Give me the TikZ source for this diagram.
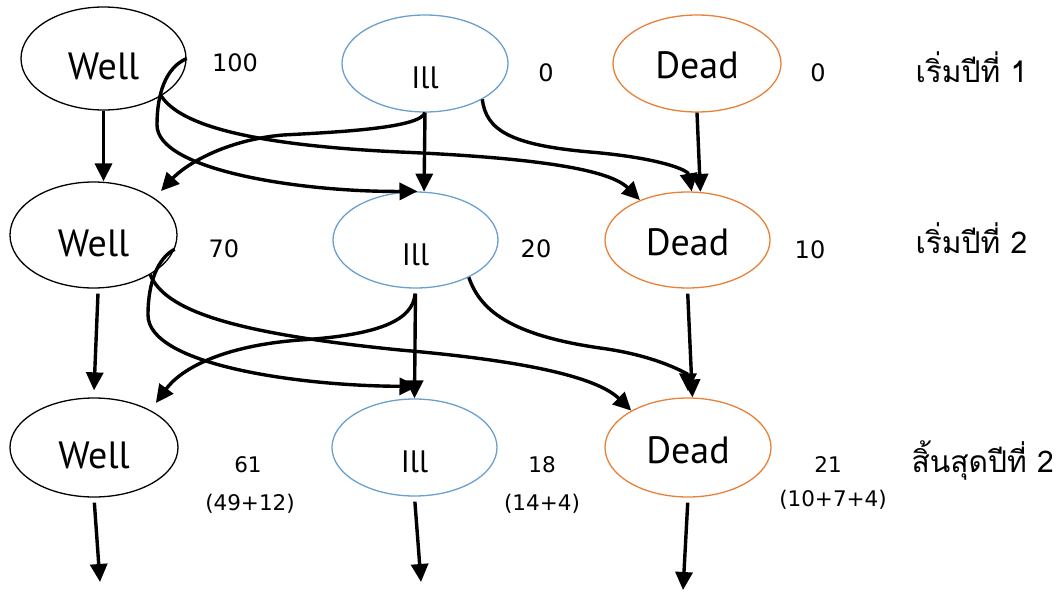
\documentclass[tikz,border=0pt]{standalone}
\usepackage{fontspec}
\setmainfont{PT Sans}
\newfontfamily\thai[Script=Thai]{Loma}
\newfontfamily\numfont{DejaVu Sans}
\usetikzlibrary{shapes.geometric,arrows.meta,calc}
\definecolor{illc}{RGB}{106,159,207}
\definecolor{deadc}{RGB}{232,128,56}
\begin{document}
\begin{tikzpicture}[x=1pt,y=-1pt,
  state/.style={ellipse,inner sep=0pt,line width=1.3pt,text depth=0pt},
  wellst/.style={state,draw=black,font=\fontsize{38}{42}\selectfont,text height=42pt},
  illst/.style={state,draw=illc,font=\fontsize{31}{34}\selectfont,text height=50pt},
  deadst/.style={state,draw=deadc,font=\fontsize{38}{42}\selectfont,text height=31pt},
  num/.style={anchor=base,font=\numfont\fontsize{24}{28}\selectfont},
  small/.style={anchor=base,font=\numfont\fontsize{21.5}{24}\selectfont},
  year/.style={anchor=base west,font=\thai\fontsize{30}{34}\selectfont},
  arr/.style={-{Triangle[length=18pt,width=17pt]},line width=3.4pt},
]
\useasboundingbox (0,0) rectangle (1056,591);
% states
\node[wellst,minimum width=165pt,minimum height=103pt] (W1) at (103.5,58.5) {Well};
\node[illst,minimum width=166pt,minimum height=97pt] (I1) at (425,63.5) {Ill};
\node[deadst,minimum width=168pt,minimum height=97pt] (D1) at (697,63.5) {Dead};
\node[wellst,minimum width=167pt,minimum height=106pt] (W2) at (93.5,235) {Well};
\node[illst,minimum width=165pt,minimum height=96pt] (I2) at (415.5,240) {Ill};
\node[deadst,minimum width=165pt,minimum height=96pt] (D2) at (687.5,240) {Dead};
\node[wellst,minimum width=168pt,minimum height=99pt] (W3) at (94,447.5) {Well};
\node[illst,minimum width=165pt,minimum height=97pt] (I3) at (414.5,447.5) {Ill};
\node[deadst,minimum width=166pt,minimum height=99pt] (D3) at (688,447.5) {Dead};
% labels
\node[num] (n1) at (235,72) {100};
\node[num] (n2) at (546,82) {0};
\node[num] (n3) at (818,82) {0};
\node[year] (y1) at (912,83) {เริ่มปีที่ 1};
\node[num] (n4) at (224,257) {70};
\node[num] (n5) at (536,257) {20};
\node[num] (n6) at (810,258) {10};
\node[year] (y2) at (912,253) {เริ่มปีที่ 2};
\node[small] (n7) at (248,472) {61};
\node[small] (n7b) at (250,510) {(49+12)};
\node[small] (n8) at (542,472) {18};
\node[small] (n8b) at (542,510) {(14+4)};
\node[small] (n9) at (828,472) {21};
\node[small] (n9b) at (833,506) {(10+7+4)};
\node[year] (y3) at (908,472) {สิ้นสุดปีที่ 2};
% free ends
\coordinate (w4) at (100,582);
\coordinate (i4) at (421,582);
\coordinate (d4) at (683,590);
% year 1 transitions
\draw[arr] (W1.south) -- (W1.south |- W2.north);
\draw[arr] (I1.south) -- (I2.80);
\draw[arr] (D1.south) -- (D2.75);
\draw[arr] (W1.east) .. controls (165,68) and (157,95) .. (157,125) .. controls (157,170) and (300,192) .. ($(I2.north)+(2,0)$);
\draw[arr] (W1.-33) .. controls (180,125) and (250,145) .. (400,152) .. controls (540,158) and (610,170) .. (D2.140);
\draw[arr] (I1.south) .. controls (420,128) and (340,132) .. (283,135) .. controls (225,140) and (185,165) .. ($(W2.north east)+(8,-6)$);
\draw[arr] (I1.-32) .. controls (486,130) and (510,145) .. (590,152) .. controls (660,158) and (688,170) .. (D2.85);
% year 2 transitions
\draw[arr,shorten <=5pt] (W2.-85) -- ($(W3.north)+(0,-7)$);
\draw[arr,shorten <=5pt] (I2.south) -- (I3.north);
\draw[arr,shorten <=5pt] (D2.south) -- (D3.85);
\draw[arr] (W2.-10) .. controls (158,258) and (148,282) .. (148,315) .. controls (148,365) and (300,386) .. ($(I3.north)+(3,-12)$);
\draw[arr] (W2.-35) .. controls (165,310) and (230,333) .. (400,350) .. controls (540,362) and (600,380) .. (D3.147);
\draw[arr,shorten <=5pt] (I2.south) .. controls (413,320) and (380,335) .. (300,340) .. controls (220,346) and (180,370) .. ($(W3.north east)+(2,-9)$);
\draw[arr] (I2.-35) .. controls (480,310) and (510,335) .. (600,348) .. controls (660,356) and (688,375) .. ($(D3.north)+(0,-6)$);
% onward
\draw[arr,shorten <=5pt] (W3.south) -- (w4);
\draw[arr,shorten <=5pt] (I3.south) -- (i4);
\draw[arr,shorten <=5pt] (D3.south) -- (d4);
\end{tikzpicture}
\end{document}
